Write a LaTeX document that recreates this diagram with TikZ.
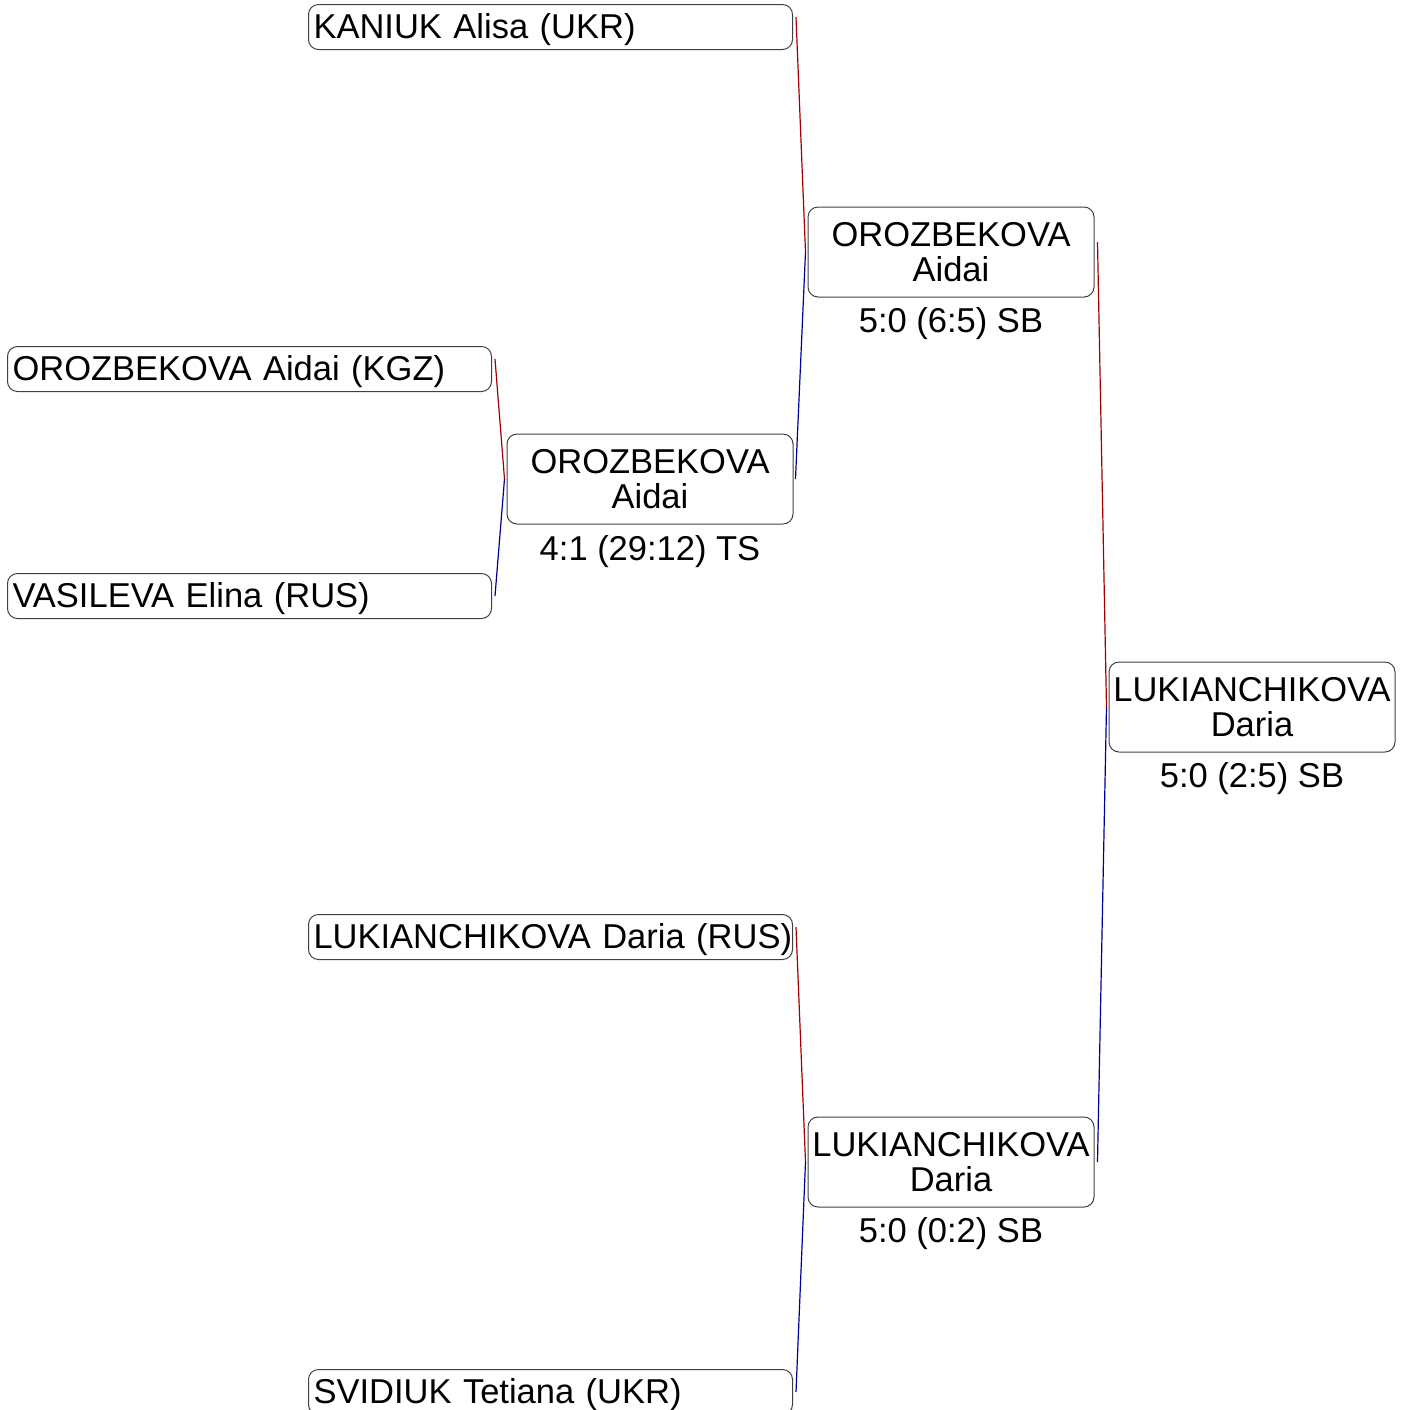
\documentclass[tikz,border=0pt]{standalone}
\usepackage{fontspec}
\setmainfont{Liberation Sans}
\usetikzlibrary{positioning}
\definecolor{redwire}{RGB}{160,0,0}
\definecolor{bluewire}{RGB}{0,0,150}

\begin{document}
\begin{tikzpicture}[
    x=0.5pt, y=-0.5pt,
    font=\fontsize{17.25}{17.5}\selectfont,
    entry/.style={rectangle, rounded corners=5pt, draw=black!75, line width=0.5pt, anchor=west,
        text width=237pt, text height=14.5pt, text depth=3pt, minimum height=22.5pt,
        inner xsep=2.5pt, inner ysep=0pt, align=left},
    winner/.style={rectangle, rounded corners=5pt, draw=black!75, line width=0.5pt,
        text width=139pt, minimum height=45pt, inner xsep=2pt, inner ysep=0pt, align=center},
    score/.style={inner sep=0pt},
    redline/.style={draw=redwire, line width=0.6pt},
    blueline/.style={draw=bluewire, line width=0.6pt}
]
    \useasboundingbox (0,0) rectangle (1410,1410);

    \node[entry] (kgz) at (7,369) {OROZBEKOVA Aidai (KGZ)};
    \node[entry] (rus) at (7,596) {VASILEVA Elina (RUS)};

    \node[entry] (kaniuk) at (308,27) {KANIUK Alisa (UKR)};
    \node[winner] (semiA) at (650,479) {OROZBEKOVA\\Aidai};
    \node[entry] (lukrus) at (308,937) {\mbox{LUKIANCHIKOVA Daria (RUS)}};
    \node[entry] (svidiuk) at (308,1392) {SVIDIUK Tetiana (UKR)};

    \node[winner] (finA) at (951,252) {OROZBEKOVA\\Aidai};
    \node[winner] (finB) at (951,1162) {LUKIANCHIKOVA\\Daria};

    \node[winner] (champ) at (1252,707) {LUKIANCHIKOVA\\Daria};

    \node[score] (scA) at (650,552) {4:1 (29:12) TS};
    \node[score] (scB) at (951,324) {5:0 (6:5) SB};
    \node[score] (scC) at (951,1234) {5:0 (0:2) SB};
    \node[score] (scD) at (1252,779) {5:0 (2:5) SB};

    \draw[redline] ([xshift=1.5pt,yshift=5pt]kgz.east) -- ([xshift=-1pt]semiA.west);
    \draw[blueline] ([xshift=-1pt]semiA.west) -- ([xshift=1.5pt]rus.east);

    \draw[redline] ([xshift=1.5pt,yshift=5pt]kaniuk.east) -- ([xshift=-1pt]finA.west);
    \draw[blueline] ([xshift=-1pt]finA.west) -- ([xshift=1pt]semiA.east);

    \draw[redline] ([xshift=1.5pt,yshift=5pt]lukrus.east) -- ([xshift=-1pt]finB.west);
    \draw[blueline] ([xshift=-1pt]finB.west) -- ([xshift=1.5pt]svidiuk.east);

    \draw[redline] ([xshift=1.5pt,yshift=5pt]finA.east) -- ([xshift=-1pt]champ.west);
    \draw[blueline] ([xshift=-1pt]champ.west) -- ([xshift=1.5pt]finB.east);
\end{tikzpicture}
\end{document}
